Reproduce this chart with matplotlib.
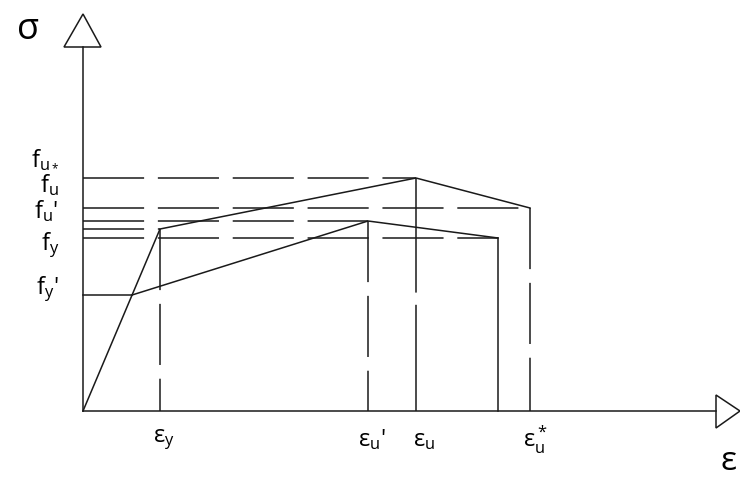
import matplotlib
matplotlib.use("Agg")
import matplotlib.pyplot as plt
from matplotlib.patches import Polygon

plt.rcParams.update({
    "font.family": ["Open Sans", "DejaVu Sans"],
    "mathtext.fontset": "custom",
    "mathtext.rm": "Open Sans",
    "mathtext.it": "Open Sans",
    "mathtext.bf": "Open Sans:bold",
})

# strain positions (arbitrary units, origin at 0)
eps_y = 77
eps_u_p = 285      # eps_u'
eps_u = 333
eps_end = 415      # end of the reduced curve
eps_u_s = 447      # eps_u*

# stress levels (arbitrary units)
f_u_s = 233        # f_u*  (peak of the upper curve)
f_u_p = 203        # f_u'  (end of the upper curve)
f_peak_low = 190   # peak of the lower curve
f_y = 182
f_end_low = 173    # end of the lower curve
f_y_p = 116        # f_y'

# curves
upper_x = [0, eps_y, eps_u, eps_u_s]
upper_y = [0, f_y, f_u_s, f_u_p]
start_low = f_y_p / f_y * eps_y
lower_x = [start_low, eps_u_p, eps_end]
lower_y = [f_y_p, f_peak_low, f_end_low]

x_max, y_max = 633, 364

fig = plt.figure(figsize=(7.4, 4.8), dpi=100)
ax = fig.add_axes([0, 0, 1, 1])
ax.set_xlim(-83, 657)
ax.set_ylim(-69, 411)
ax.axis("off")

lw = 1.1
k = "#1a1a1a"
dash = (0, (40, 9))

# axes with open triangular arrows
ax.plot([0, 0], [0, y_max], color=k, lw=lw)
ax.plot([0, x_max], [0, 0], color=k, lw=lw)
ax.add_patch(Polygon([[-19, y_max], [18, y_max], [0, 397]], closed=True,
                     facecolor="white", edgecolor=k, lw=lw))
ax.add_patch(Polygon([[x_max, 16], [x_max, -17], [657, 0]], closed=True,
                     facecolor="white", edgecolor=k, lw=lw, clip_on=False))

# stress-strain curves
ax.plot(upper_x, upper_y, color=k, lw=lw)
ax.plot(lower_x, lower_y, color=k, lw=lw)
ax.plot([0, start_low], [f_y_p, f_y_p], color=k, lw=lw)
ax.plot([eps_end, eps_end], [0, f_end_low], color=k, lw=lw)

# dashed reference lines
for x, y in [(eps_y, f_y), (eps_u_p, f_peak_low), (eps_u_s, f_u_p)]:
    ax.plot([x, x], [y, 0], color=k, lw=lw, linestyle=dash)
ax.plot([eps_u, eps_u], [f_u_s, 0], color=k, lw=lw, linestyle=(0, (75, 8)))
for x, y in [(eps_u, f_u_s), (eps_u_s, f_u_p), (eps_u_p, f_peak_low),
             (eps_y, f_y), (eps_end, f_end_low)]:
    ax.plot([0, x], [y, y], color=k, lw=lw, linestyle=dash)

# labels
fs = 17
ax.text(-55, 381, "σ", fontsize=26, ha="center", va="center", color="black")
ax.text(645, -51, "ε", fontsize=24, ha="center", va="center", color="black")

ylabels = [(r"$\mathregular{f_{u_*}}$", f_u_s + 19),
           (r"$\mathregular{f_u}$", f_u_s - 7),
           (r"$\mathregular{f_u}$'", f_u_p - 3),
           (r"$\mathregular{f_y}$", f_end_low - 7),
           (r"$\mathregular{f_y}$'", f_y_p + 6)]
for s, y in ylabels:
    ax.text(-24, y, s, fontsize=fs, ha="right", va="center")

xlabels = [(r"$\mathregular{ε_y}$", eps_y + 4),
           (r"$\mathregular{ε_u}$'", eps_u_p + 4),
           (r"$\mathregular{ε_u}$", eps_u + 8),
           (r"$\mathregular{ε_u^*}$", eps_u_s + 5)]
for s, x in xlabels:
    ax.text(x, -29, s, fontsize=fs, ha="center", va="center")

fig.savefig("out.png", dpi=100)
